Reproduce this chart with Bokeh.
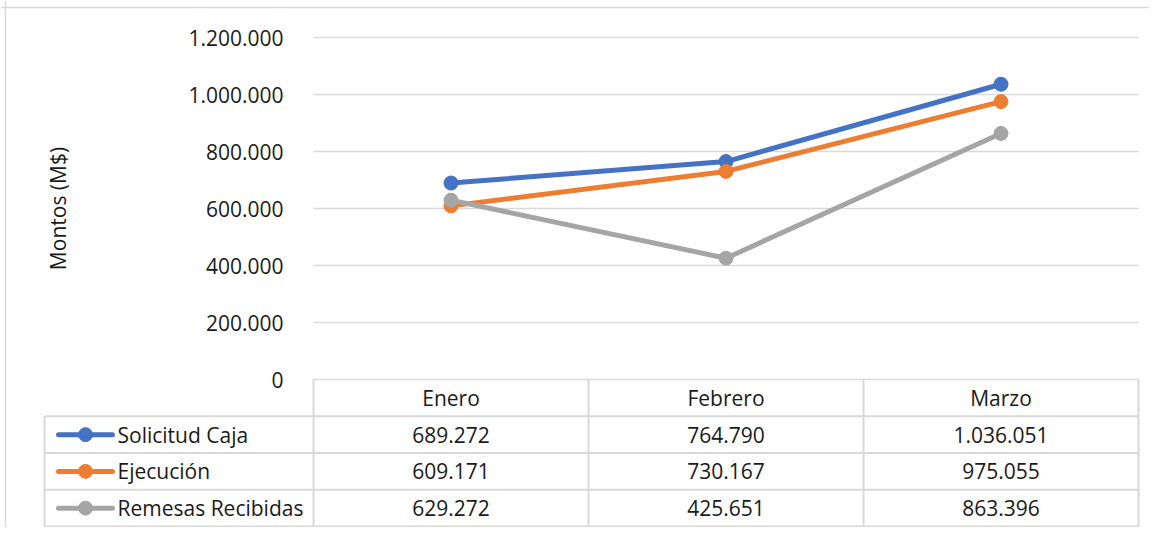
import numpy as np
from bokeh.plotting import figure
from bokeh.models import Range1d, LinearAxis, FixedTicker, Label, Span
from bokeh.core.properties import value
from bokeh.embed import file_html
from bokeh.resources import INLINE

# ---------------- data ----------------
months = ["Enero", "Febrero", "Marzo"]
series_names = ["Solicitud Caja", "Ejecución", "Remesas Recibidas"]
solicitud_caja = [689272, 764790, 1036051]
ejecucion = [609171, 730167, 975055]
remesas_recibidas = [629272, 425651, 863396]
y_ticks = [0, 200000, 400000, 600000, 800000, 1000000, 1200000]
y_label = "Montos (M$)"

# ---------------- style / layout ----------------
colors = ["#4472C4", "#ED7D31", "#A5A5A5"]
GRID = "#D9D9D9"
TXT = "#1a1a1a"
FONT = "Open Sans"
FS = "21px"

W, H = 1149, 527
PLOT_LEFT_PX = 313      # left edge of plot area inside figure
CAT_PX = 275            # width of one category
ZERO_PX = 379           # distance of the zero line from the top
PX_PER_UNIT = 342 / 1200000
ROW_PX = 36.75
LEG_COL = 269 / CAT_PX  # width of the legend column (in category units)


def fmt(v):
    return f"{int(v):,}".replace(",", ".")


series = [solicitud_caja, ejecucion, remesas_recibidas]
n = len(months)
xc = np.arange(n) + 0.5

x_range = Range1d(-PLOT_LEFT_PX / CAT_PX, (W - PLOT_LEFT_PX) / CAT_PX)
y_range = Range1d(-(H - ZERO_PX) / PX_PER_UNIT, ZERO_PX / PX_PER_UNIT)

p = figure(width=W, height=H, x_range=x_range, y_range=y_range,
           output_backend="svg", toolbar_location=None,
           x_axis_location=None, y_axis_location=None, min_border=0)
p.extra_y_ranges = {"table": Range1d(-(H - ZERO_PX) / ROW_PX, ZERO_PX / ROW_PX)}
p.outline_line_color = None
p.background_fill_color = "white"
p.border_fill_color = "white"
for g in p.grid:
    g.visible = False

# chart-area border (left and top)
p.add_layout(Span(location=x_range.start + 5 / CAT_PX, dimension="height",
                  line_color=GRID, line_width=1.5))
p.add_layout(Span(location=y_range.end - 7 / PX_PER_UNIT, dimension="width",
                  line_color=GRID, line_width=1.5))

# gridlines (through the scales)
p.segment(x0=[0] * len(y_ticks), x1=[n] * len(y_ticks), y0=y_ticks, y1=y_ticks,
          line_color=GRID, line_width=1.5)

# y axis placed at the left edge of the plot area
yaxis = LinearAxis(fixed_location=0, ticker=FixedTicker(ticks=y_ticks),
                   major_label_overrides={t: fmt(t) for t in y_ticks},
                   axis_line_color=None, major_tick_line_color=None,
                   minor_tick_line_color=None, major_label_standoff=24,
                   major_label_text_font=FONT, major_label_text_font_size=FS,
                   major_label_text_color=TXT)
p.add_layout(yaxis, "left")

p.add_layout(Label(x=-256 / CAT_PX, y=y_ticks[-1] / 2, text=y_label, angle=np.pi / 2,
                   text_align="center", text_baseline="middle",
                   text_font=FONT, text_font_size=FS, text_color=TXT))

# series lines
for vals, c in zip(series, colors):
    p.line(xc, vals, line_color=c, line_width=5, line_join="round", line_cap="round")
    p.scatter(xc, vals, size=14, fill_color=c, line_color=c)

# ---------------- data table ----------------
rows = len(series) + 1
hy = [-(i + 1) for i in range(rows)]
p.segment(x0=[-LEG_COL] * rows, x1=[n] * rows, y0=hy, y1=hy,
          line_color=GRID, line_width=2, y_range_name="table")
vx = list(range(n + 1))
p.segment(x0=vx, x1=vx, y0=[0] * len(vx), y1=[-rows] * len(vx),
          line_color=GRID, line_width=2, y_range_name="table")
p.segment(x0=[-LEG_COL], x1=[-LEG_COL], y0=[-1], y1=[-rows],
          line_color=GRID, line_width=2, y_range_name="table")

# header
p.text(x=xc, y=[-0.5] * n, text=months, text_align="center", text_baseline="middle",
       text_font=value(FONT), text_font_size=FS, text_color=TXT, y_range_name="table")

# rows
for i, (name, vals, c) in enumerate(zip(series_names, series, colors)):
    ry = -(i + 1.5)
    p.text(x=xc, y=[ry] * n, text=[fmt(v) for v in vals], text_align="center",
           text_baseline="middle", text_font=value(FONT), text_font_size=FS,
           text_color=TXT, y_range_name="table")
    lx0, lx1 = -LEG_COL + 14 / CAT_PX, -LEG_COL + 68 / CAT_PX
    p.segment(x0=[lx0], x1=[lx1], y0=[ry], y1=[ry], line_color=c, line_width=5,
              line_cap="round", y_range_name="table")
    p.scatter(x=[(lx0 + lx1) / 2], y=[ry], size=14, fill_color=c, line_color=c,
              y_range_name="table")
    p.text(x=[lx1 + 5 / CAT_PX], y=[ry], text=[name], text_align="left",
           text_baseline="middle", text_font=value(FONT), text_font_size=FS,
           text_color=TXT, y_range_name="table")

open("out.html", "w").write(file_html(p, INLINE))
